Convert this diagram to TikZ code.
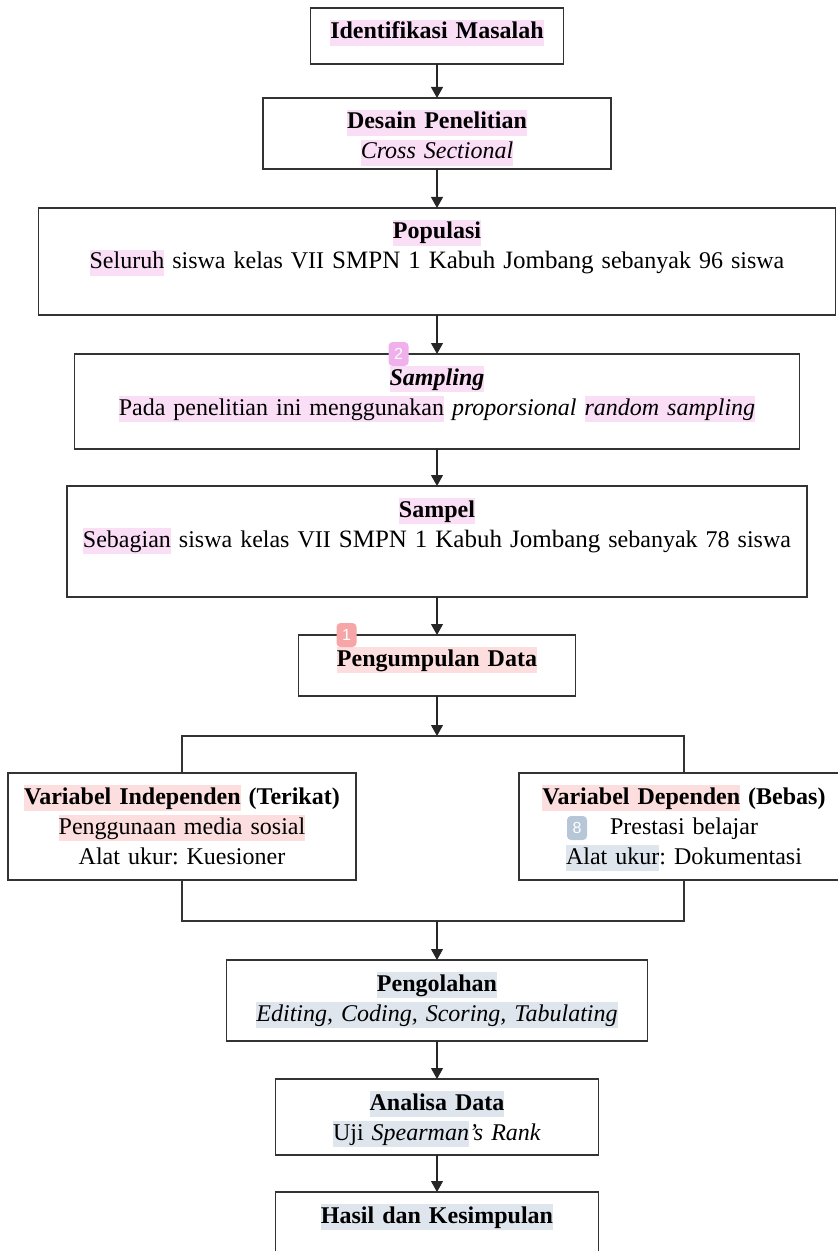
\documentclass[tikz,border=0pt]{standalone}
\usepackage{fontspec}
\setmainfont{Liberation Serif}
\setsansfont{Liberation Sans}
\usetikzlibrary{arrows.meta, positioning}
\frenchspacing

\definecolor{hlpink}{RGB}{250,222,246}
\definecolor{hlred}{RGB}{253,222,222}
\definecolor{hlblue}{RGB}{222,229,237}
\definecolor{badgepink}{RGB}{240,176,236}
\definecolor{badgered}{RGB}{246,166,166}
\definecolor{badgeblue}{RGB}{183,199,216}

% highlighted text
\newcommand{\hlt}[2]{{\setlength{\fboxsep}{0pt}\colorbox{#1}{\rule[-3.5pt]{0pt}{13pt}#2}}}

\begin{document}
\begin{tikzpicture}[
    font=\fontsize{12}{15}\selectfont,
    box/.style={draw=black!80, line width=0.6pt, align=center, inner xsep=0pt, inner ysep=6pt, outer sep=0pt},
    arrow/.style={-{Triangle[width=6pt,length=5.5pt]}, line width=0.6pt, draw=black!85},
    link/.style={line width=0.6pt, draw=black!80},
    badge/.style={rounded corners=2pt, minimum width=10pt, minimum height=12pt, inner sep=0pt,
                  text=white, font=\sffamily\fontsize{8}{8}\selectfont}
]
    \useasboundingbox (-218.5pt,18pt) rectangle (200.5pt,-607.5pt);

    % Main column
    \node [box, text width=126.5pt, text depth=6.5pt] (ident) at (0,0)
        {\hlt{hlpink}{\textbf{Identifikasi Masalah}}};
    \node [box, text width=174pt, text depth=14pt] (desain) [below=17pt of ident]
        {\hlt{hlpink}{\textbf{Desain Penelitian}}\\ \hlt{hlpink}{\textit{Cross Sectional}}};
    \node [box, text width=398.5pt, text depth=32pt] (populasi) [below=19.5pt of desain]
        {\hlt{hlpink}{\textbf{Populasi}}\\ \hlt{hlpink}{Seluruh} siswa kelas VII {\fontsize{12.5}{15}\selectfont SMPN 1 Kabuh Jombang} sebanyak 96 siswa};
    \node [box, text width=362.5pt, text depth=26pt] (sampling) [below=19.5pt of populasi]
        {\hlt{hlpink}{\textbf{\textit{Sampling}}}\\ \hlt{hlpink}{Pada penelitian ini menggunakan} \textit{proporsional} \hlt{hlpink}{\textit{random sampling}}};
    \node [box, text width=370pt, text depth=34pt] (sampel) [below=18.5pt of sampling]
        {\hlt{hlpink}{\textbf{Sampel}}\\ \hlt{hlpink}{Sebagian} siswa kelas VII {\fontsize{12.5}{15}\selectfont SMPN 1 Kabuh Jombang} sebanyak 78 siswa};
    \node [box, text width=138.5pt, text depth=9pt] (pengumpulan) [below=19pt of sampel]
        {\hlt{hlred}{\textbf{Pengumpulan Data}}};

    % Variables
    \node [box, text width=174pt, text depth=32pt] (indep) [below=38.5pt of pengumpulan, xshift=-127.5pt]
        {\hlt{hlred}{\textbf{Variabel Independen}} \textbf{(Terikat)}\\ \hlt{hlred}{Penggunaan media sosial}\\ Alat ukur: Kuesioner};
    \node [box, text width=165pt, text depth=32pt] (dep) [below=38.5pt of pengumpulan, xshift=123.5pt]
        {\hlt{hlred}{\textbf{Variabel Dependen}} \textbf{(Bebas)}\\ Prestasi belajar\\ \hlt{hlblue}{Alat ukur}: Dokumentasi};

    \coordinate (split) at ([yshift=-20pt]pengumpulan.south);
    \coordinate (join) at ([yshift=-20.5pt]pengumpulan |- indep.south);

    % Processing
    \node [box, text width=210.5pt, text depth=19pt] (pengolahan) [below=19.5pt of join]
        {\hlt{hlblue}{\textbf{Pengolahan}}\\ \hlt{hlblue}{\textit{Editing, Coding, Scoring, Tabulating}}};
    \node [box, text width=161.5pt, text depth=16.5pt] (analisa) [below=19pt of pengolahan]
        {\hlt{hlblue}{\textbf{Analisa Data}}\\ \hlt{hlblue}{Uji \textit{Spearman}}\textit{’s Rank}};
    \node [box, text width=161.5pt, text depth=30pt] (hasil) [below=18.5pt of analisa]
        {\hlt{hlblue}{\textbf{Hasil dan Kesimpulan}}};

    % Connections
    \draw [arrow] (ident) -- (desain);
    \draw [arrow] (desain) -- (populasi);
    \draw [arrow] (populasi) -- (sampling);
    \draw [arrow] (sampling) -- (sampel);
    \draw [arrow] (sampel) -- (pengumpulan);
    \draw [arrow] (pengumpulan) -- (split);
    \draw [link] (indep.north) |- (split) -| (dep.north);
    \draw [link] (indep.south) |- (join) -| (dep.south);
    \draw [arrow] (join) -- (pengolahan);
    \draw [arrow] (pengolahan) -- (analisa);
    \draw [arrow] (analisa) -- (hasil);

    % Note markers
    \node [badge, fill=badgepink] (mark2) at ([xshift=-19.25pt]sampling.north) {2};
    \node [badge, fill=badgered] (mark1) at ([xshift=-45.25pt]pengumpulan.north) {1};
    \node [badge, fill=badgeblue] (mark8) at ([xshift=-53.5pt, yshift=-27.5pt]dep.north) {8};

\end{tikzpicture}
\end{document}
